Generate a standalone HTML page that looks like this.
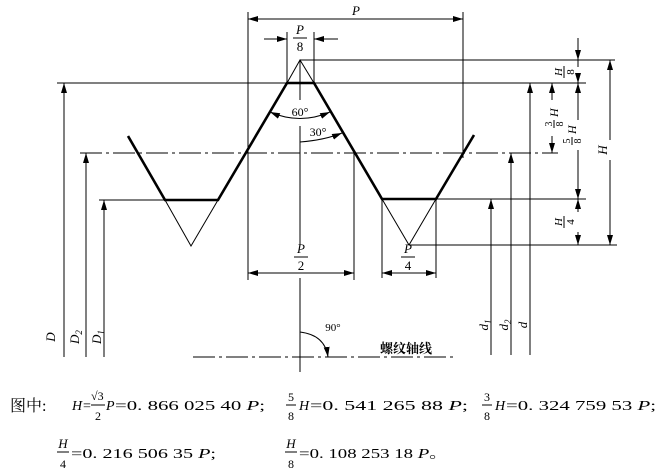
<!DOCTYPE html>
<html><head><meta charset="utf-8"><style>
html,body{margin:0;padding:0;background:#fff;}
svg{display:block;}
text{font-family:"Liberation Serif","Noto Serif CJK SC",serif;fill:#000;}
.i{font-style:italic;}
</style></head><body>
<svg width="662" height="474" viewBox="0 0 662 474" xmlns="http://www.w3.org/2000/svg">
<defs>
<marker id="a" viewBox="0 0 10 6" refX="10" refY="3" markerWidth="10" markerHeight="6" orient="auto-start-reverse" markerUnits="userSpaceOnUse"><path d="M0,0 L10,3 L0,6 Z" fill="#000"/></marker>
</defs>
<g stroke="#000" stroke-width="1" fill="none">
<line x1="300" y1="60" x2="615" y2="60"/>
<line x1="57" y1="83" x2="586" y2="83"/>
<line x1="80" y1="153" x2="558" y2="153" stroke-dasharray="22,4,3,4"/>
<line x1="99" y1="200" x2="165" y2="200"/>
<line x1="436" y1="199" x2="586" y2="199"/>
<line x1="409" y1="245" x2="617" y2="245"/>
<polyline points="287,83 300,60 314,83"/>
<polyline points="165,200 191,246 218,200"/>
<polyline points="382,199 409,245 436,199"/>
<line x1="248" y1="12" x2="248" y2="280"/>
<line x1="463" y1="12" x2="463" y2="158"/>
<line x1="287" y1="32" x2="287" y2="83"/>
<line x1="314" y1="32" x2="314" y2="83"/>
<line x1="354" y1="153" x2="354" y2="280"/>
<line x1="382" y1="199" x2="382" y2="278"/>
<line x1="436" y1="199" x2="436" y2="278"/>
<line x1="300" y1="60" x2="300" y2="100"/>
<line x1="300" y1="126" x2="300" y2="245"/>
<line x1="300" y1="278" x2="300" y2="372"/>
<line x1="248" y1="19" x2="463" y2="19" marker-start="url(#a)" marker-end="url(#a)"/>
<line x1="264" y1="39" x2="287" y2="39" marker-end="url(#a)"/>
<line x1="338" y1="39" x2="314" y2="39" marker-end="url(#a)"/>
<line x1="248" y1="273" x2="354" y2="273" marker-start="url(#a)" marker-end="url(#a)"/>
<line x1="382" y1="273" x2="436" y2="273" marker-start="url(#a)" marker-end="url(#a)"/>
<line x1="64" y1="357" x2="64" y2="83" marker-end="url(#a)"/>
<line x1="86" y1="357" x2="86" y2="153" marker-end="url(#a)"/>
<line x1="104" y1="357" x2="104" y2="200" marker-end="url(#a)"/>
<line x1="491" y1="355" x2="491" y2="199" marker-end="url(#a)"/>
<line x1="511" y1="355" x2="511" y2="153" marker-end="url(#a)"/>
<line x1="530" y1="355" x2="530" y2="83" marker-end="url(#a)"/>
<line x1="578" y1="38" x2="578" y2="60" marker-end="url(#a)"/>
<line x1="578" y1="60" x2="578" y2="67"/>
<line x1="578" y1="76" x2="578" y2="83" marker-end="url(#a)"/>
<line x1="578" y1="83" x2="578" y2="120" marker-start="url(#a)"/>
<line x1="578" y1="150" x2="578" y2="199" marker-end="url(#a)"/>
<line x1="578" y1="199" x2="578" y2="212" marker-start="url(#a)"/>
<line x1="578" y1="232" x2="578" y2="245" marker-end="url(#a)"/>
<line x1="552" y1="83" x2="552" y2="100" marker-start="url(#a)"/>
<line x1="552" y1="136" x2="552" y2="153" marker-end="url(#a)"/>
<line x1="610" y1="60" x2="610" y2="140" marker-start="url(#a)"/>
<line x1="610" y1="160" x2="610" y2="245" marker-end="url(#a)"/>
<path d="M270,112 Q300,125 330,112" marker-start="url(#a)" marker-end="url(#a)"/>
<path d="M300,142 Q325,140 342,133" marker-end="url(#a)"/>
<path d="M300,332 Q325,335 328,357" marker-end="url(#a)"/>
<line x1="193" y1="357" x2="453" y2="357" stroke-dasharray="22,4,3,4"/>
</g>
<g stroke="#000" stroke-width="2.6" fill="none" stroke-linejoin="miter">
<polyline points="128,136 165,200 218,200 287,83 314,83 382,199 436,199 474,135"/>
</g>
<g font-size="13">
<text x="356" y="15" class="i" text-anchor="middle">P</text>
<text x="300" y="34" class="i" text-anchor="middle">P</text>
<line x1="293" y1="38" x2="307" y2="38" stroke="#000"/>
<text x="300" y="51" text-anchor="middle">8</text>
<text x="300" y="116" text-anchor="middle" font-size="12">60°</text>
<text x="318" y="136" text-anchor="middle" font-size="12">30°</text>
<text x="333" y="331" text-anchor="middle" font-size="11">90°</text>
<text x="301" y="253" class="i" text-anchor="middle">P</text>
<line x1="294" y1="257" x2="308" y2="257" stroke="#000"/>
<text x="301" y="270" text-anchor="middle">2</text>
<text x="408" y="253" class="i" text-anchor="middle">P</text>
<line x1="401" y1="257" x2="415" y2="257" stroke="#000"/>
<text x="408" y="270" text-anchor="middle">4</text>
<text x="380" y="353" font-family="Liberation Sans,Noto Sans CJK SC,sans-serif" font-weight="bold" font-size="13">螺纹轴线</text>
<g transform="translate(55,337) rotate(-90)"><text class="i" text-anchor="middle">D</text></g>
<g transform="translate(79,337) rotate(-90)"><text class="i" text-anchor="middle">D<tspan font-size="9" dy="3">2</tspan></text></g>
<g transform="translate(101,337) rotate(-90)"><text class="i" text-anchor="middle">D<tspan font-size="9" dy="3">1</tspan></text></g>
<g transform="translate(488,325) rotate(-90)"><text class="i" text-anchor="middle">d<tspan font-size="9" dy="3">1</tspan></text></g>
<g transform="translate(508,325) rotate(-90)"><text class="i" text-anchor="middle">d<tspan font-size="9" dy="3">2</tspan></text></g>
<g transform="translate(527,325) rotate(-90)"><text class="i" text-anchor="middle">d</text></g>
<g transform="translate(607,150) rotate(-90)"><text class="i" text-anchor="middle">H</text></g>
<g transform="translate(566,72) rotate(-90)"><text class="i" x="0" y="-4" text-anchor="middle" font-size="11">H</text><line x1="-6" y1="-2" x2="6" y2="-2" stroke="#000"/><text x="0" y="8" text-anchor="middle" font-size="11">8</text></g>
<g transform="translate(566,222) rotate(-90)"><text class="i" x="0" y="-4" text-anchor="middle" font-size="11">H</text><line x1="-6" y1="-2" x2="6" y2="-2" stroke="#000"/><text x="0" y="8" text-anchor="middle" font-size="11">4</text></g>
<g transform="translate(556,118) rotate(-90)"><text x="-6" y="-4" text-anchor="middle" font-size="10">3</text><line x1="-10" y1="-2" x2="-2" y2="-2" stroke="#000"/><text x="-6" y="7" text-anchor="middle" font-size="10">8</text><text class="i" x="1" y="2" font-size="12">H</text></g>
<g transform="translate(574,135) rotate(-90)"><text x="-6" y="-4" text-anchor="middle" font-size="10">5</text><line x1="-10" y1="-2" x2="-2" y2="-2" stroke="#000"/><text x="-6" y="7" text-anchor="middle" font-size="10">8</text><text class="i" x="1" y="2" font-size="12">H</text></g>
</g>
<g font-size="14">
<text x="10" y="411" font-size="16" font-family="Liberation Serif,Noto Serif CJK SC,serif">图中:</text>
<text x="72" y="410" class="i">H</text>
<text x="83" y="410">=</text>
<text x="91" y="400" font-size="12">√3</text>
<line x1="91" y1="405" x2="105" y2="405" stroke="#000"/>
<text x="98" y="420" font-size="12" text-anchor="middle">2</text>
<text x="106" y="410" class="i">P</text>
<text x="115" y="410" textLength="150" lengthAdjust="spacingAndGlyphs">=0. 866 025 40 <tspan class="i">P</tspan>;</text>
<text x="291" y="401" font-size="12" text-anchor="middle">5</text>
<line x1="286" y1="405" x2="296" y2="405" stroke="#000"/>
<text x="291" y="420" font-size="12" text-anchor="middle">8</text>
<text x="299" y="410" class="i">H</text>
<text x="310" y="410" textLength="158" lengthAdjust="spacingAndGlyphs">=0. 541 265 88 <tspan class="i">P</tspan>;</text>
<text x="487" y="401" font-size="12" text-anchor="middle">3</text>
<line x1="482" y1="405" x2="492" y2="405" stroke="#000"/>
<text x="487" y="420" font-size="12" text-anchor="middle">8</text>
<text x="495" y="410" class="i">H</text>
<text x="506" y="410" textLength="150" lengthAdjust="spacingAndGlyphs">=0. 324 759 53 <tspan class="i">P</tspan>;</text>
<text x="63" y="448" font-size="13" class="i" text-anchor="middle">H</text>
<line x1="57" y1="452" x2="69" y2="452" stroke="#000"/>
<text x="63" y="468" font-size="12" text-anchor="middle">4</text>
<text x="71" y="458" textLength="145" lengthAdjust="spacingAndGlyphs">=0. 216 506 35 <tspan class="i">P</tspan>;</text>
<text x="291" y="448" font-size="13" class="i" text-anchor="middle">H</text>
<line x1="285" y1="452" x2="297" y2="452" stroke="#000"/>
<text x="291" y="468" font-size="12" text-anchor="middle">8</text>
<text x="299" y="458" textLength="149" lengthAdjust="spacingAndGlyphs">=0. 108 253 18 <tspan class="i">P</tspan>。</text>
</g>
</svg>
</body></html>
